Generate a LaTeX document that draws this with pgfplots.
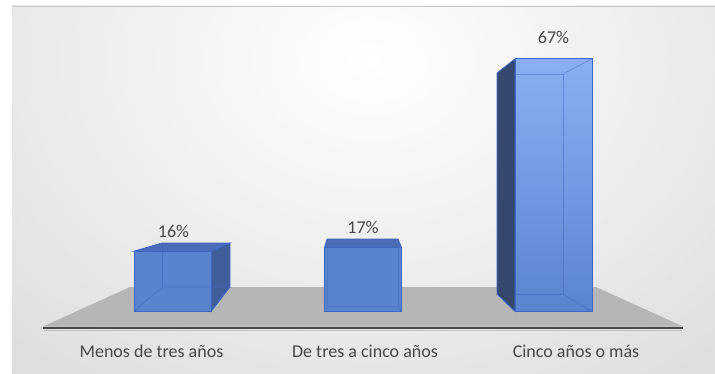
\documentclass[border=0pt]{standalone}
\usepackage{fontspec}
\setmainfont{Carlito}
\usepackage{pgfplots}
\pgfplotsset{compat=1.18}
\definecolor{bgouter}{RGB}{190,190,190}
\definecolor{floorc}{RGB}{182,182,182}
\definecolor{edgeline}{RGB}{70,70,70}
\definecolor{frontc}{RGB}{90,131,207}
\definecolor{fronttop}{RGB}{138,176,243}
\definecolor{side1}{RGB}{64,94,156}
\definecolor{side3}{RGB}{52,71,111}
\definecolor{top1}{RGB}{74,108,186}
\definecolor{top2}{RGB}{74,106,178}
\definecolor{edgeb}{RGB}{60,104,196}
\definecolor{innerc}{RGB}{66,104,190}
\definecolor{txt}{RGB}{72,72,72}
\newcommand{\lbl}{\fontsize{18bp}{21bp}\selectfont\color{txt}}
\begin{document}
\begin{tikzpicture}
\begin{scope}[x=1bp,y=1bp]
\path[use as bounding box] (0,0) rectangle (715,373);
\fill[white] (0,0) rectangle (715,373);
\begin{scope}
\clip (12,0) rectangle (715,367);
\fill[bgouter] (12,0) rectangle (715,367);
\shade[inner color=white, outer color=bgouter] (-670,-487) rectangle (1410,1113);
\end{scope}
\draw[color=black!22, line width=0.8bp] (12,366.6) -- (715,366.6);
\end{scope}
\begin{axis}[at={(12bp,0bp)}, anchor=south west, scale only axis,
  width=703bp, height=367bp,
  xmin=12, xmax=715, ymin=-16.31, ymax=81.03,
  hide axis, clip=false]
% floor
\addplot[draw=none, fill=floorc] coordinates {(43,-3.98) (683,-3.98) (596,6.5) (130,6.5)} -- cycle;
\addplot[draw=black!25, line width=1.2bp] coordinates {(44,-5.0) (682,-5.0)};
\addplot[draw=edgeline, line width=2.4bp] coordinates {(43,-4.4) (683,-4.4)};
% side and top faces
\addplot[fill=side3, draw=edgeb, line width=0.8bp] coordinates {(515,67) (497,63.26) (497,4.64) (515,0)} -- cycle;
\addplot[fill=side1, draw=edgeb, line width=0.8bp] coordinates {(211,0) (230,6.5) (230,18.17) (211,16)} -- cycle;
\addplot[fill=top1, draw=edgeb, line width=0.8bp] coordinates {(134,16) (162,18.17) (230,18.17) (211,16)} -- cycle;
\addplot[fill=top2, draw=edgeb, line width=0.8bp] coordinates {(324.5,17) (327,19.23) (398,19.23) (401.5,17)} -- cycle;
% front faces (values)
\addplot[ybar, bar shift=0pt, bar width=77, fill=frontc, draw=edgeb, line width=0.8bp] coordinates {(172.5,16) (363,17)};
\addplot[ybar, bar shift=0pt, bar width=77, top color=fronttop, bottom color=frontc, draw=edgeb, line width=0.8bp] coordinates {(553.5,67)};
% inner (back) edges seen through
\pgfplotsset{every axis plot/.append style={}}
\addplot[innerc, line width=0.7bp, opacity=0.6] coordinates {(134,0) (162,6.5) (230,6.5)};
\addplot[innerc, line width=0.7bp, opacity=0.6] coordinates {(162,6.5) (162,18.17)};
\addplot[innerc, line width=0.7bp, opacity=0.45] coordinates {(327,19.23) (327,1.46) (398,1.46) (398,19.23)};
\addplot[innerc, line width=0.7bp, opacity=0.45] coordinates {(324.5,0) (327,1.46)};
\addplot[innerc, line width=0.7bp, opacity=0.45] coordinates {(401.5,0) (398,1.46)};
\addplot[innerc, line width=0.7bp, opacity=0.5] coordinates {(515,63.0) (563,63.0) (563,4.64) (515,4.64)};
\addplot[innerc, line width=0.7bp, opacity=0.5] coordinates {(592,67) (563,63.0)};
\addplot[innerc, line width=0.7bp, opacity=0.5] coordinates {(592,0) (563,4.64)};
% labels
\node[anchor=base, font=\lbl] at (axis cs:173.5,19.76) {16\%};
\node[anchor=base, font=\lbl] at (axis cs:363,20.82) {17\%};
\node[anchor=base, font=\lbl] at (axis cs:553.5,70.95) {67\%};
\node[anchor=base, font=\lbl] at (axis cs:151.5,-12.07) {Menos de tres años};
\node[anchor=base, font=\lbl] at (axis cs:365,-12.07) {De tres a cinco años};
\node[anchor=base, font=\lbl] at (axis cs:576,-12.07) {Cinco años o más};
\end{axis}
\end{tikzpicture}
\end{document}
